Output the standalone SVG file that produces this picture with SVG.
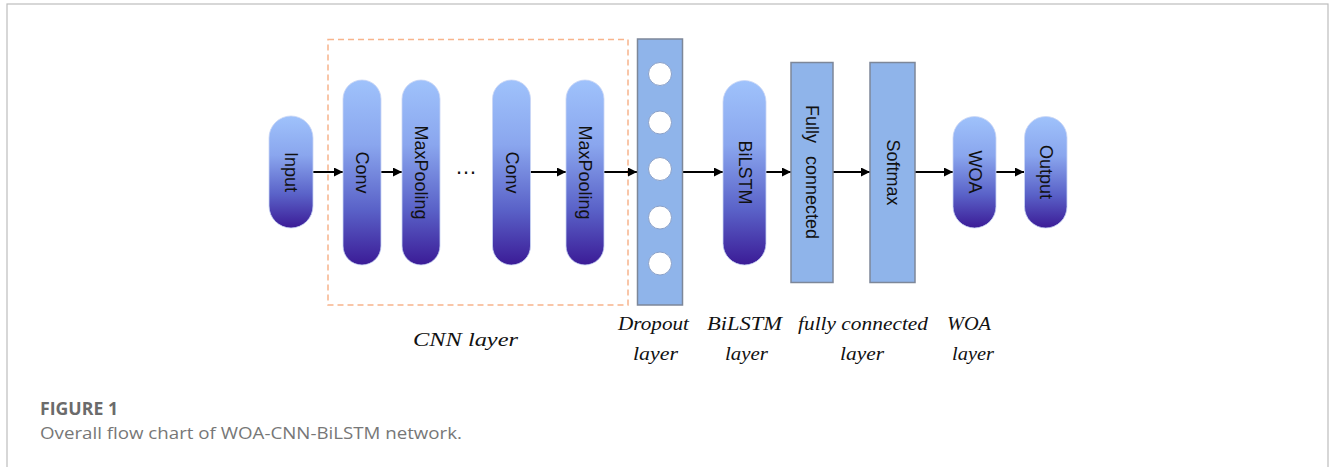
<svg xmlns="http://www.w3.org/2000/svg" width="1330" height="467" viewBox="0 0 1330 467">
<style>
.pill{fill:url(#pg);stroke:#c9d6f5;stroke-width:0.8}
.box{fill:#8fb4ea;stroke:#7d8799;stroke-width:1.5}
.nt{font-family:"Liberation Sans",Arial,sans-serif;font-size:18px;fill:#111;text-anchor:middle;dominant-baseline:central}
.lb{font-family:"Liberation Serif","Times New Roman",serif;font-style:italic;font-size:19px;fill:#111}
.cn{stroke:#000;stroke-width:2;fill:none;marker-end:url(#ah)}
.cap1{font-family:"Open Sans","Liberation Sans",sans-serif;font-weight:bold;font-size:18px;fill:#6b6b6b}
.cap2{font-family:"Open Sans","Liberation Sans",sans-serif;font-size:17px;fill:#777}
</style>
<defs>
<linearGradient id="pg" x1="0" y1="0" x2="0" y2="1">
<stop offset="0" stop-color="#9fc2fb"/>
<stop offset="0.35" stop-color="#8aa6ee"/>
<stop offset="0.7" stop-color="#5a62c8"/>
<stop offset="1" stop-color="#3b1b96"/>
</linearGradient>
<marker id="ah" viewBox="0 0 10 10" refX="10" refY="5" markerWidth="5" markerHeight="4.5" orient="auto" markerUnits="strokeWidth">
<path d="M0,0 L10,5 L0,10 z" fill="#000"/>
</marker>
</defs>
<rect x="7" y="4" width="1321" height="470" fill="#fff" stroke="#bdbdbd" stroke-width="1.2"/>
<rect id="cnn-box" x="328" y="39.5" width="300" height="265.5" fill="none" stroke="#f8b48c" stroke-width="1.5" stroke-dasharray="6,4"/>
<g id="connectors">
<line class="cn" x1="313" y1="172" x2="343" y2="172"/>
<line class="cn" x1="381" y1="172" x2="402" y2="172"/>
<line class="cn" x1="530" y1="172" x2="566" y2="172"/>
<line class="cn" x1="604" y1="172" x2="637" y2="172"/>
<line class="cn" x1="683" y1="172" x2="723" y2="172"/>
<line class="cn" x1="766" y1="172" x2="791" y2="172"/>
<line class="cn" x1="833" y1="172" x2="870" y2="172"/>
<line class="cn" x1="915" y1="172" x2="953" y2="172"/>
<line class="cn" x1="996" y1="172" x2="1024" y2="172"/>
</g>
<g id="input">
<rect class="pill" x="269" y="116" width="44" height="112" rx="22"/>
<text class="nt" transform="translate(291,172) rotate(90)">Input</text>
</g>
<g id="conv1">
<rect class="pill" x="343" y="80" width="38" height="185" rx="19"/>
<text class="nt" transform="translate(362,172.5) rotate(90)">Conv</text>
</g>
<g id="maxpool1">
<rect class="pill" x="402" y="80" width="38" height="185" rx="19"/>
<text class="nt" transform="translate(421,172.5) rotate(90)">MaxPooling</text>
</g>
<g id="dots">
<text x="466" y="173.5" font-family="Liberation Sans,Arial,sans-serif" font-size="22" fill="#111" text-anchor="middle">…</text>
</g>
<g id="conv2">
<rect class="pill" x="492.5" y="80" width="38" height="185" rx="19"/>
<text class="nt" transform="translate(511.5,172.5) rotate(90)">Conv</text>
</g>
<g id="maxpool2">
<rect class="pill" x="566" y="80" width="38" height="185" rx="19"/>
<text class="nt" transform="translate(585,172.5) rotate(90)">MaxPooling</text>
</g>
<g id="dropout">
<rect class="box" x="637.5" y="39" width="45" height="266"/>
<circle cx="660" cy="74" r="11.5" fill="#fff" stroke="#8aa0c8" stroke-width="1"/>
<circle cx="660" cy="122.5" r="11.5" fill="#fff" stroke="#8aa0c8" stroke-width="1"/>
<circle cx="660" cy="169" r="11.5" fill="#fff" stroke="#8aa0c8" stroke-width="1"/>
<circle cx="660" cy="217.5" r="11.5" fill="#fff" stroke="#8aa0c8" stroke-width="1"/>
<circle cx="660" cy="263.5" r="11.5" fill="#fff" stroke="#8aa0c8" stroke-width="1"/>
</g>
<g id="bilstm">
<rect class="pill" x="723" y="80.5" width="43" height="184.5" rx="21.5"/>
<text class="nt" transform="translate(744.5,172.5) rotate(90)">BiLSTM</text>
</g>
<g id="fc">
<rect class="box" x="791" y="62.5" width="42" height="220"/>
<text class="nt" transform="translate(812,172) rotate(90)" word-spacing="8">Fully connected</text>
</g>
<g id="softmax">
<rect class="box" x="870" y="62.5" width="45" height="220"/>
<text class="nt" transform="translate(892.5,172.5) rotate(90)">Softmax</text>
</g>
<g id="woa">
<rect class="pill" x="953" y="116.5" width="43" height="111.5" rx="21.5"/>
<text class="nt" transform="translate(974.5,172) rotate(90)">WOA</text>
</g>
<g id="output">
<rect class="pill" x="1024.5" y="116.5" width="42.5" height="111.5" rx="21.25"/>
<text class="nt" transform="translate(1045.7,172) rotate(90)">Output</text>
</g>
<g id="labels">
<text class="lb" x="413" y="346" textLength="105" lengthAdjust="spacingAndGlyphs">CNN layer</text>
<text class="lb" x="618" y="330" textLength="71" lengthAdjust="spacingAndGlyphs">Dropout</text>
<text class="lb" x="633" y="360" textLength="45" lengthAdjust="spacingAndGlyphs">layer</text>
<text class="lb" x="707" y="330" textLength="75" lengthAdjust="spacingAndGlyphs">BiLSTM</text>
<text class="lb" x="725" y="360" textLength="43" lengthAdjust="spacingAndGlyphs">layer</text>
<text class="lb" x="798" y="330" textLength="130" lengthAdjust="spacingAndGlyphs">fully connected</text>
<text class="lb" x="840" y="360" textLength="44" lengthAdjust="spacingAndGlyphs">layer</text>
<text class="lb" x="947" y="330" textLength="44" lengthAdjust="spacingAndGlyphs">WOA</text>
<text class="lb" x="952" y="360" textLength="42" lengthAdjust="spacingAndGlyphs">layer</text>
</g>
<g id="caption">
<text class="cap1" x="40" y="415" textLength="78" lengthAdjust="spacingAndGlyphs">FIGURE 1</text>
<text class="cap2" x="40" y="439" textLength="422" lengthAdjust="spacingAndGlyphs">Overall flow chart of WOA-CNN-BiLSTM network.</text>
</g>
</svg>
